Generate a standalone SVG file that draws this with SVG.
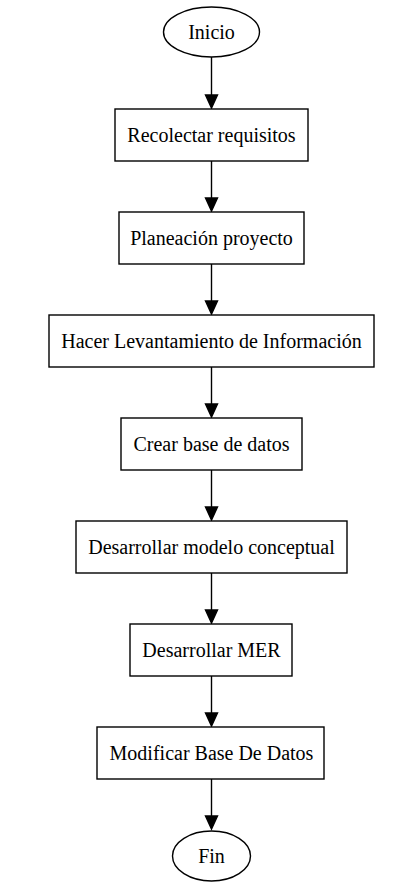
<svg xmlns="http://www.w3.org/2000/svg" width="408" height="882" viewBox="0 0 408 882">
<defs>
<style>
.n{fill:#fff;stroke:#000;stroke-width:1.4}
.t{font-family:"Liberation Serif","Times New Roman",serif;font-size:20px;fill:#000;text-anchor:middle}
.e{stroke:#000;stroke-width:1.4;fill:none}
.h{fill:#000;stroke:#000;stroke-width:1.4}
</style>
</defs>
<rect width="408" height="882" fill="#fff"/>
<g id="edges">
<line class="e" x1="211.5" y1="57" x2="211.5" y2="96"/>
<polygon class="h" points="205.5,95 217.5,95 211.5,108"/>
<line class="e" x1="211.5" y1="161" x2="211.5" y2="199"/>
<polygon class="h" points="205.5,198 217.5,198 211.5,211"/>
<line class="e" x1="211.5" y1="264" x2="211.5" y2="302"/>
<polygon class="h" points="205.5,301 217.5,301 211.5,314"/>
<line class="e" x1="211.5" y1="367" x2="211.5" y2="405"/>
<polygon class="h" points="205.5,404 217.5,404 211.5,417"/>
<line class="e" x1="211.5" y1="470" x2="211.5" y2="508"/>
<polygon class="h" points="205.5,507 217.5,507 211.5,520"/>
<line class="e" x1="211.5" y1="573" x2="211.5" y2="611"/>
<polygon class="h" points="205.5,610 217.5,610 211.5,623"/>
<line class="e" x1="211.5" y1="676" x2="211.5" y2="714"/>
<polygon class="h" points="205.5,713 217.5,713 211.5,726"/>
<line class="e" x1="211.5" y1="779" x2="211.5" y2="817"/>
<polygon class="h" points="205.5,816 217.5,816 211.5,829"/>
</g>
<g id="inicio"><ellipse class="n" cx="211.5" cy="32" rx="48" ry="25"/><text class="t" x="211.5" y="39">Inicio</text></g>
<g id="recolectar"><rect class="n" x="115" y="109" width="193" height="52"/><text class="t" x="211.5" y="142">Recolectar requisitos</text></g>
<g id="planeacion"><rect class="n" x="119" y="212" width="185" height="52"/><text class="t" x="211.5" y="245">Planeación proyecto</text></g>
<g id="levantamiento"><rect class="n" x="49" y="315" width="325" height="52"/><text class="t" x="211.5" y="348">Hacer Levantamiento de Información</text></g>
<g id="crearbd"><rect class="n" x="121" y="418" width="181" height="52"/><text class="t" x="211.5" y="451">Crear base de datos</text></g>
<g id="conceptual"><rect class="n" x="76" y="521" width="271" height="52"/><text class="t" x="211.5" y="554">Desarrollar modelo conceptual</text></g>
<g id="mer"><rect class="n" x="130" y="624" width="162" height="52"/><text class="t" x="211.5" y="657">Desarrollar MER</text></g>
<g id="modificar"><rect class="n" x="97" y="727" width="227" height="52"/><text class="t" x="211.5" y="760">Modificar Base De Datos</text></g>
<g id="fin"><ellipse class="n" cx="211.5" cy="856" rx="39" ry="25"/><text class="t" x="211.5" y="863">Fin</text></g>
</svg>
